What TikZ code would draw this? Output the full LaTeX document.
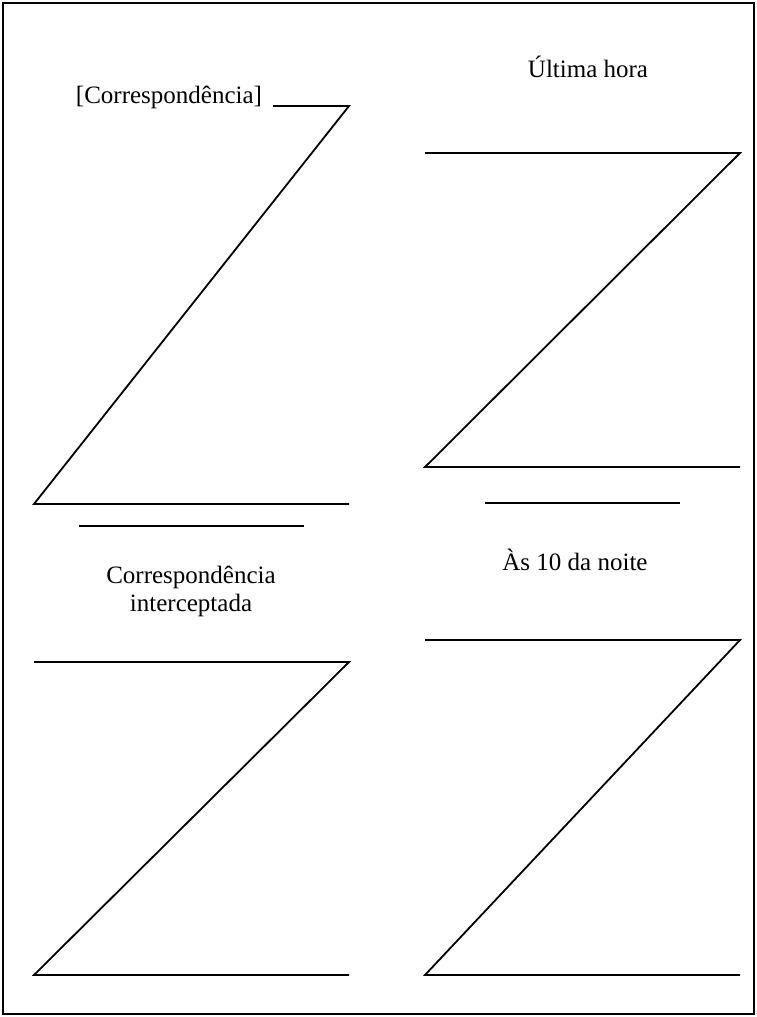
\documentclass[tikz,border=0pt]{standalone}
\usepackage{fontspec}
\setmainfont{Liberation Serif}
\begin{document}
\begin{tikzpicture}[x=1pt,y=-1pt,line width=1.8pt,
  lbl/.style={font=\fontsize{25}{28}\selectfont,inner sep=0pt,align=center}]
\useasboundingbox (0,0) rectangle (757,1017);
\draw[line width=1.5pt] (3,3) rectangle (754,1014);
% top-left Z
\coordinate (a1) at (273,106); \coordinate (a2) at (349,106);
\coordinate (a3) at (34,504); \coordinate (a4) at (349,504);
\draw (a1) -- (a2) -- (a3) -- (a4);
% top-right Z
\coordinate (b1) at (425,153); \coordinate (b2) at (740,153);
\coordinate (b3) at (425,467); \coordinate (b4) at (740,467);
\draw (b1) -- (b2) -- (b3) -- (b4);
% bottom-left Z
\coordinate (c1) at (34,662); \coordinate (c2) at (349,662);
\coordinate (c3) at (34,975); \coordinate (c4) at (349,975);
\draw (c1) -- (c2) -- (c3) -- (c4);
% bottom-right Z
\coordinate (d1) at (425,640); \coordinate (d2) at (740,640);
\coordinate (d3) at (425,975); \coordinate (d4) at (740,975);
\draw (d1) -- (d2) -- (d3) -- (d4);
% separators
\coordinate (s1) at (79,526); \coordinate (s2) at (304,526);
\draw (s1) -- (s2);
\coordinate (t1) at (485,503); \coordinate (t2) at (680,503);
\draw (t1) -- (t2);
% labels
\node[lbl] (corr) at (169,97) {[Correspondência]};
\node[lbl] (ult) at (588,67) {Última hora};
\node[lbl] (inter) at (191,591) {Correspondência\\interceptada};
\node[lbl] (noite) at (575,560) {Às 10 da noite};
\end{tikzpicture}
\end{document}
